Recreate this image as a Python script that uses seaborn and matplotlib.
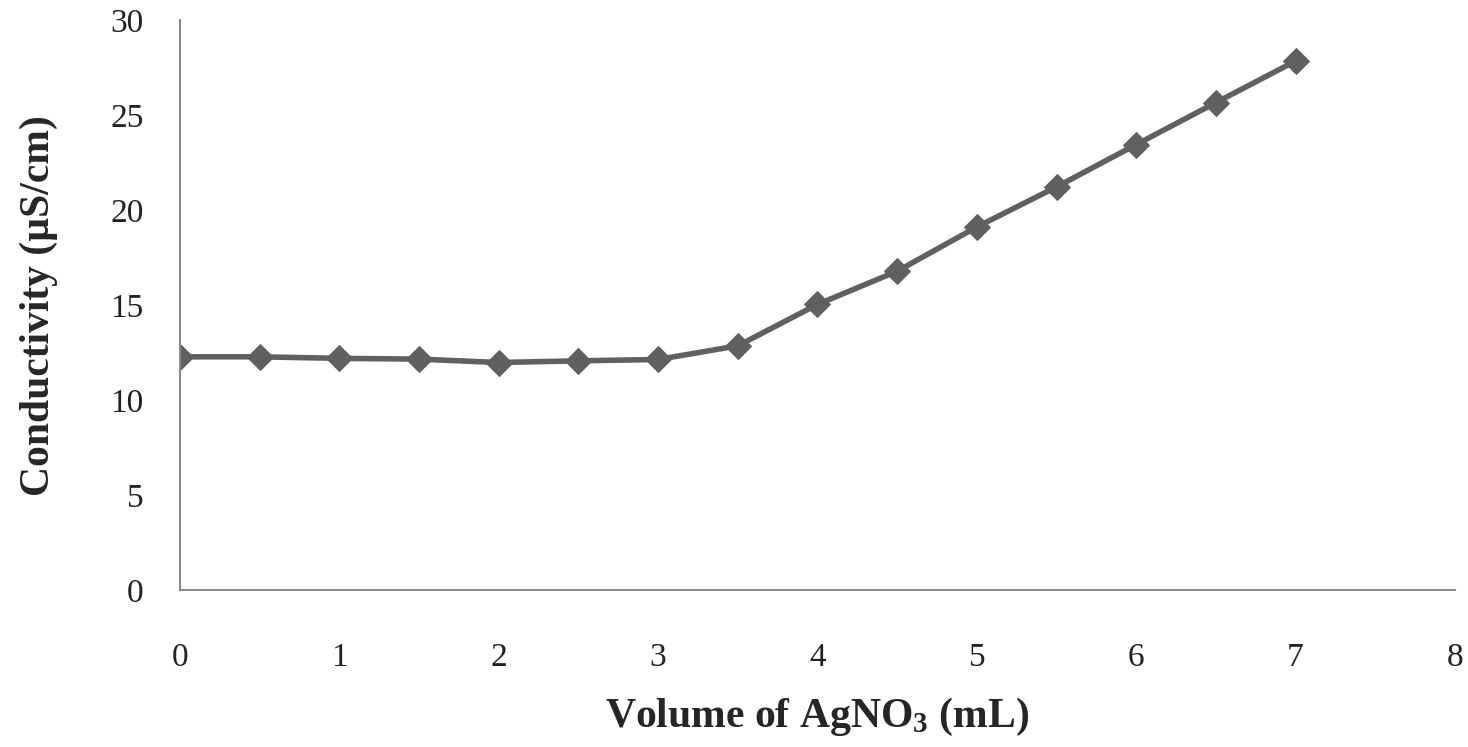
import numpy as np
import pandas as pd
import matplotlib
matplotlib.use("Agg")
import matplotlib.pyplot as plt
import seaborn as sns

# titration data: volume of AgNO3 added vs conductivity
volume = [0, 0.5, 1, 1.5, 2, 2.5, 3, 3.5, 4, 4.5, 5, 5.5, 6, 6.5, 7]
conductivity = [12.28, 12.28, 12.2, 12.16, 11.98, 12.07, 12.14, 12.86,
                15.04, 16.79, 19.12, 21.23, 23.46, 25.67, 27.86]

x_ticks = [0, 1, 2, 3, 4, 5, 6, 7, 8]
y_ticks = [0, 5, 10, 15, 20, 25, 30]

df = pd.DataFrame({"volume": volume, "conductivity": conductivity})

sns.set_style("white")
plt.rcParams["font.family"] = ["Liberation Serif", "DejaVu Serif"]
plt.rcParams["mathtext.default"] = "regular"

fig = plt.figure(figsize=(14.68, 7.47), dpi=100)
ax = fig.add_axes([0.1226, 0.2102, 0.8685, 0.7625])

line_col = "#606060"
sns.lineplot(data=df, x="volume", y="conductivity", ax=ax, color=line_col,
             linewidth=4, marker="D", markersize=13,
             markeredgecolor=line_col, markerfacecolor=line_col)

ax.set_xlim(0, 8)
ax.set_ylim(0, 30)
ax.set_xticks(x_ticks)
ax.set_yticks(y_ticks)
ax.tick_params(axis="both", length=0, labelsize=24, colors="#222222")
ax.tick_params(axis="x", pad=38)
ax.tick_params(axis="y", pad=26)

for s in ["top", "right"]:
    ax.spines[s].set_visible(False)
for s in ["left", "bottom"]:
    ax.spines[s].set_color("#8a8a8a")
    ax.spines[s].set_linewidth(1.5)

ax.set_xlabel("Volume of AgNO$_3$ (mL)", fontsize=30, fontweight="bold",
              labelpad=16)
ax.set_ylabel("Conductivity (µS/cm)", fontsize=30, fontweight="bold",
              labelpad=38)

fig.savefig("out.png", dpi=100)
